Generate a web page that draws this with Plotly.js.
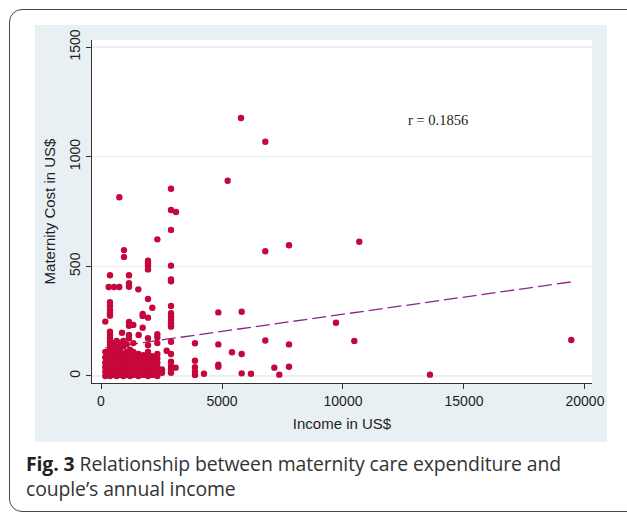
<!DOCTYPE html>
<html>
<head>
<meta charset="utf-8">
<script src="https://cdn.plot.ly/plotly-3.0.1.min.js"></script>
<style>
  html, body { margin: 0; padding: 0; background: #ffffff; width: 627px; height: 515px; overflow: hidden; }
  #frame { position: absolute; left: 9px; top: 9px; width: 640px; height: 503px; border: 1.5px solid #4a4a4a; border-radius: 13px; box-sizing: border-box; }
  #chart { position: absolute; left: 35px; top: 25px; width: 572px; height: 417px; }
  #caption { position: absolute; left: 26px; top: 451px; font-family: "Open Sans", "Noto Sans", sans-serif; font-size: 19.4px; line-height: 25px; color: #333; letter-spacing: -0.1px; }
  #caption b { font-weight: 700; color: #222; }
</style>
</head>
<body>
<div id="frame"></div>
<div id="chart"></div>
<div id="caption"><b>Fig. 3</b> Relationship between maternity care expenditure and<br>couple’s annual income</div>
<script>
// Couple's annual income (US$) for each respondent
const income = [
  757, 2893, 2893, 3099, 2893, 2328, 950, 950, 1942, 1942, 1942, 1942, 2893,
  372, 1157, 318, 537, 757, 1157, 1157, 1543, 2893, 2893,
  372, 372, 372, 372, 372, 1942, 2121, 1722, 1722, 1942,
  2893, 2893, 2893, 2893, 2893, 2893,
  178, 1157, 1157, 1335, 1722, 868, 1556, 372, 372, 372, 372,
  1157, 1157, 2328, 2328, 1942, 3884, 2713, 2893, 3884, 3884, 3884, 3086, 2521, 2893,
  5234, 5785, 6790, 6790, 7769, 10674, 5813, 4848, 2893, 4848, 6790, 5413, 5813,
  2893, 2893, 2893, 3884, 4256, 4848, 4848, 5813, 6198,
  9711, 7769, 10467, 7163, 7769, 7368, 13595, 19434,
  178, 178, 178, 178, 178, 178,
  372, 372, 372, 372, 372, 372, 372, 372, 372, 372,
  510, 510, 510, 510, 510, 510, 510, 510, 510,
  647, 647, 647, 647, 647, 647, 647, 647, 647, 647,
  785, 785, 785, 785, 785, 785, 785, 785, 785,
  923, 923, 923, 923, 923, 923, 923, 923, 923,
  1060, 1060, 1060, 1060, 1060, 1060, 1060, 1060,
  1198, 1198, 1198, 1198, 1198, 1198, 1198, 1198,
  1336, 1336, 1336, 1336, 1336, 1336, 1336, 1336,
  1543, 1543, 1543, 1543, 1543, 1543, 1543,
  1749, 1749, 1749, 1749, 1749, 1749, 1749,
  1942, 1942, 1942, 1942, 1942, 1942, 1942, 1942, 1942,
  2121, 2121, 2121, 2121, 2121, 2121,
  2328, 2328, 2328, 2328, 2328, 2328, 2328, 2328,
  2521
];
// Maternity cost (US$) for each respondent
const cost = [
  815, 854, 757, 748, 666, 623, 574, 543, 526, 513, 502, 486, 503,
  459, 459, 406, 406, 406, 423, 407, 395, 440, 432,
  336, 319, 300, 286, 275, 351, 311, 283, 274, 266,
  319, 286, 270, 255, 240, 225,
  248, 246, 229, 233, 220, 197, 187, 202, 187, 172, 156,
  187, 172, 190, 176, 172, 149, 115, 100, 70, 40, 20, 38, 15, 15,
  890, 1176, 1068, 569, 596, 612, 293, 290, 156, 144, 162, 108, 100,
  65, 45, 30, 5, 10, 52, 42, 12, 10,
  243, 144, 160, 38, 42, 6, 6, 164,
  0, 20, 40, 60, 85, 110,
  0, 10, 25, 40, 55, 70, 90, 105, 120, 140,
  5, 20, 35, 50, 65, 80, 100, 130, 150,
  0, 15, 30, 45, 60, 75, 95, 115, 140, 160,
  5, 20, 35, 50, 70, 90, 110, 125, 150,
  0, 15, 30, 45, 60, 80, 100, 135, 160,
  5, 20, 40, 55, 70, 85, 110, 145,
  0, 15, 30, 50, 65, 80, 95, 120,
  5, 25, 40, 60, 75, 90, 110, 150,
  0, 20, 35, 50, 70, 85, 100,
  5, 15, 30, 45, 60, 80, 95,
  0, 15, 25, 40, 55, 75, 90, 110, 140,
  5, 20, 35, 55, 70, 90,
  0, 10, 25, 40, 60, 80, 100, 150,
  30
];
// Fitted regression line end points
const fitIncome = [178, 19434];
const fitCost = [128, 429];
// Axis ticks
const xTicks = [0, 5000, 10000, 15000, 20000];
const yTicks = [0, 500, 1000, 1500];
const rLabel = "r = 0.1856";

const traces = [
  {
    x: fitIncome, y: fitCost, type: 'scatter', mode: 'lines',
    line: { color: '#8e2291', width: 1.3, dash: '14px,5px' },
    hoverinfo: 'skip', showlegend: false
  },
  {
    x: income, y: cost, type: 'scatter', mode: 'markers',
    marker: { color: '#c6073c', size: 6.4, line: { width: 0 } },
    showlegend: false
  }
];

const tickFont = { family: 'Liberation Sans, Arial, sans-serif', size: 14, color: '#1e1e1e' };
const titleFont = { family: 'Liberation Sans, Arial, sans-serif', size: 15, color: '#1e1e1e' };

const layout = {
  width: 572, height: 417,
  margin: { l: 57, r: 15, t: 15, b: 59 },
  paper_bgcolor: '#e9f0f3',
  plot_bgcolor: '#ffffff',
  showlegend: false,
  xaxis: {
    range: [-372, 20290],
    tickvals: xTicks, ticktext: xTicks.map(String),
    ticks: 'outside', ticklen: 5, tickwidth: 1, tickcolor: '#333',
    showline: true, linecolor: '#333', linewidth: 1,
    showgrid: false, zeroline: false,
    tickfont: tickFont,
    title: { text: 'Income in US$', font: titleFont, standoff: 10 }
  },
  yaxis: {
    range: [-32, 1532],
    tickvals: yTicks, ticktext: yTicks.map(String),
    tickangle: -90,
    ticks: 'outside', ticklen: 5, tickwidth: 1, tickcolor: '#333',
    showline: true, linecolor: '#333', linewidth: 1,
    showgrid: true, gridcolor: '#e8eef1', gridwidth: 1.2,
    zeroline: false,
    tickfont: tickFont,
    title: { text: 'Maternity Cost in US$', font: titleFont, standoff: 8 }
  },
  annotations: [
    {
      x: 13925, y: 1167, xref: 'x', yref: 'y', text: rLabel, showarrow: false,
      font: { family: 'Liberation Serif, Times New Roman, serif', size: 14.5, color: '#222' }
    }
  ]
};

Plotly.newPlot('chart', traces, layout, { displayModeBar: false, staticPlot: true });
</script>
</body>
</html>
